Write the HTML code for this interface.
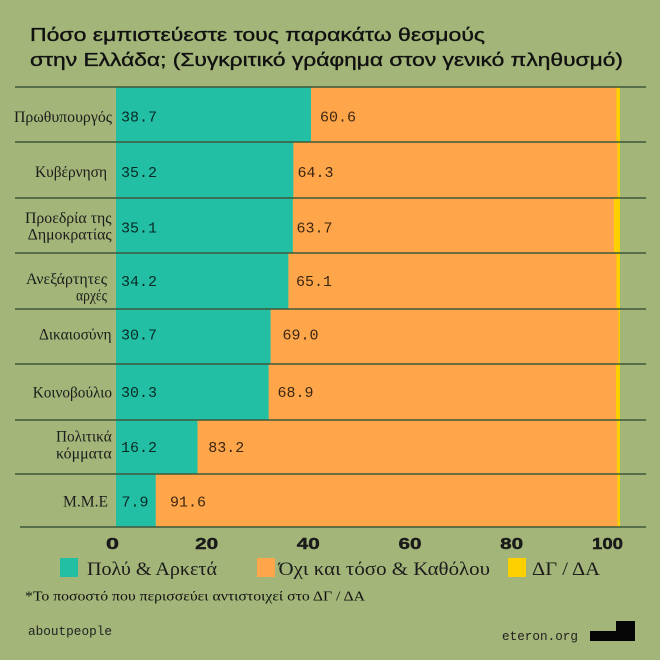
<!DOCTYPE html>
<html>
<head>
<meta charset="utf-8">
<style>
  html, body { margin: 0; padding: 0; background: #a3b578; }
  svg { display: block; }
  .t { font-family: "Liberation Sans", "DejaVu Sans", sans-serif; fill: #111; stroke: #111; stroke-width: 0.35px; }
  .lab { font-family: "Liberation Serif", "DejaVu Serif", serif; font-size: 15.5px; fill: #1c1c1c; }
  .val { font-family: "Liberation Mono", "DejaVu Sans Mono", monospace; font-size: 15px; fill: rgba(0,0,0,0.78); }
  .tick { font-family: "Liberation Sans", "DejaVu Sans", sans-serif; font-weight: bold; font-size: 15.5px; fill: #1a1a1a; stroke: #1a1a1a; stroke-width: 0.4px; }
  .leg { font-family: "Liberation Serif", "DejaVu Serif", serif; font-size: 18.5px; fill: #1c1c1c; }
  .foot { font-family: "Liberation Serif", "DejaVu Serif", serif; font-size: 14px; fill: #111; }
  .mono { font-family: "Liberation Mono", "DejaVu Sans Mono", monospace; font-size: 13px; fill: #222; }
</style>
</head>
<body>
<svg width="660" height="660" viewBox="0 0 660 660" xmlns="http://www.w3.org/2000/svg">
  <rect x="0" y="0" width="660" height="660" fill="#a3b578"/>

  <!-- Title -->
  <text class="t" x="30" y="41" font-size="18" textLength="455" lengthAdjust="spacingAndGlyphs">Πόσο εμπιστεύεστε τους παρακάτω θεσμούς</text>
  <text class="t" x="30" y="66" font-size="18" textLength="593" lengthAdjust="spacingAndGlyphs">στην Ελλάδα; (Συγκριτικό γράφημα στον γενικό πληθυσμό)</text>

  <!-- Bars: x0=116, scale 5.04 -->
  <rect x="116" y="87" width="195.0" height="55" fill="#23bfa5"/>
  <rect x="311.0" y="87" width="305.4" height="55" fill="#ffa64b"/>
  <rect x="616.4" y="87" width="3.6" height="55" fill="#ffd000"/>

  <rect x="116" y="142" width="177.4" height="56" fill="#23bfa5"/>
  <rect x="293.4" y="142" width="324.1" height="56" fill="#ffa64b"/>
  <rect x="617.5" y="142" width="2.5" height="56" fill="#ffd000"/>

  <rect x="116" y="198" width="176.9" height="55" fill="#23bfa5"/>
  <rect x="292.9" y="198" width="321.0" height="55" fill="#ffa64b"/>
  <rect x="613.9" y="198" width="6.1" height="55" fill="#ffd000"/>

  <rect x="116" y="253" width="172.4" height="56" fill="#23bfa5"/>
  <rect x="288.4" y="253" width="328.1" height="56" fill="#ffa64b"/>
  <rect x="616.5" y="253" width="3.5" height="56" fill="#ffd000"/>

  <rect x="116" y="309" width="154.7" height="55" fill="#23bfa5"/>
  <rect x="270.7" y="309" width="347.8" height="55" fill="#ffa64b"/>
  <rect x="618.5" y="309" width="1.5" height="55" fill="#ffd000"/>

  <rect x="116" y="364" width="152.7" height="56" fill="#23bfa5"/>
  <rect x="268.7" y="364" width="347.3" height="56" fill="#ffa64b"/>
  <rect x="616.0" y="364" width="4.0" height="56" fill="#ffd000"/>

  <rect x="116" y="420" width="81.6" height="54" fill="#23bfa5"/>
  <rect x="197.6" y="420" width="419.3" height="54" fill="#ffa64b"/>
  <rect x="616.9" y="420" width="3.1" height="54" fill="#ffd000"/>

  <rect x="116" y="474" width="39.8" height="53" fill="#23bfa5"/>
  <rect x="155.8" y="474" width="461.7" height="53" fill="#ffa64b"/>
  <rect x="617.5" y="474" width="2.5" height="53" fill="#ffd000"/>

  <!-- Grid lines -->
  <g stroke="#3d5838" stroke-width="1.6">
    <line x1="15" y1="87" x2="646" y2="87"/>
    <line x1="15" y1="142" x2="646" y2="142"/>
    <line x1="15" y1="198" x2="646" y2="198"/>
    <line x1="15" y1="253" x2="646" y2="253"/>
    <line x1="15" y1="309" x2="646" y2="309"/>
    <line x1="15" y1="364" x2="646" y2="364"/>
    <line x1="15" y1="420" x2="646" y2="420"/>
    <line x1="15" y1="474" x2="646" y2="474"/>
    <line x1="20" y1="527" x2="646" y2="527"/>
  </g>

  <!-- Row labels -->
  <text class="lab" x="14" y="122" textLength="98" lengthAdjust="spacingAndGlyphs">Πρωθυπουργός</text>
  <text class="lab" x="35" y="177" textLength="72" lengthAdjust="spacingAndGlyphs">Κυβέρνηση</text>
  <text class="lab" x="25" y="223" textLength="86.5" lengthAdjust="spacingAndGlyphs">Προεδρία της</text>
  <text class="lab" x="27.7" y="239.5" textLength="84" lengthAdjust="spacingAndGlyphs">Δημοκρατίας</text>
  <text class="lab" x="26" y="284" textLength="81" lengthAdjust="spacingAndGlyphs">Ανεξάρτητες</text>
  <text class="lab" x="76" y="300.5" textLength="31" lengthAdjust="spacingAndGlyphs">αρχές</text>
  <text class="lab" x="39" y="339.5" textLength="72.5" lengthAdjust="spacingAndGlyphs">Δικαιοσύνη</text>
  <text class="lab" x="32.7" y="397.5" textLength="79.3" lengthAdjust="spacingAndGlyphs">Κοινοβούλιο</text>
  <text class="lab" x="56" y="441.7" textLength="55.7" lengthAdjust="spacingAndGlyphs">Πολιτικά</text>
  <text class="lab" x="56" y="458.3" textLength="55.7" lengthAdjust="spacingAndGlyphs">κόμματα</text>
  <text class="lab" x="63" y="506.7" textLength="45" lengthAdjust="spacingAndGlyphs">Μ.Μ.Ε</text>

  <!-- Value labels -->
  <text class="val" x="121" y="121.5">38.7</text>
  <text class="val" x="320" y="121.5">60.6</text>
  <text class="val" x="121" y="177">35.2</text>
  <text class="val" x="297.5" y="177">64.3</text>
  <text class="val" x="121" y="232.5">35.1</text>
  <text class="val" x="296.5" y="232.5">63.7</text>
  <text class="val" x="121" y="286">34.2</text>
  <text class="val" x="296" y="286">65.1</text>
  <text class="val" x="121" y="339.5">30.7</text>
  <text class="val" x="282.5" y="339.5">69.0</text>
  <text class="val" x="121" y="397">30.3</text>
  <text class="val" x="277.5" y="397">68.9</text>
  <text class="val" x="121" y="452">16.2</text>
  <text class="val" x="208.3" y="452">83.2</text>
  <text class="val" x="121.5" y="506.7">7.9</text>
  <text class="val" x="170" y="506.7">91.6</text>

  <!-- Axis ticks -->
  <text class="tick" x="112.5" y="549" text-anchor="middle" textLength="13" lengthAdjust="spacingAndGlyphs">0</text>
  <text class="tick" x="206.7" y="549" text-anchor="middle" textLength="23" lengthAdjust="spacingAndGlyphs">20</text>
  <text class="tick" x="308.3" y="549" text-anchor="middle" textLength="23" lengthAdjust="spacingAndGlyphs">40</text>
  <text class="tick" x="410" y="549" text-anchor="middle" textLength="23" lengthAdjust="spacingAndGlyphs">60</text>
  <text class="tick" x="511.7" y="549" text-anchor="middle" textLength="23" lengthAdjust="spacingAndGlyphs">80</text>
  <text class="tick" x="607.5" y="549" text-anchor="middle" textLength="31" lengthAdjust="spacingAndGlyphs">100</text>

  <!-- Legend -->
  <rect x="60" y="558" width="18" height="19" fill="#23bfa5"/>
  <text class="leg" x="87" y="575" textLength="130" lengthAdjust="spacingAndGlyphs">Πολύ &amp; Αρκετά</text>
  <rect x="257" y="558" width="18" height="19" fill="#ffa64b"/>
  <text class="leg" x="278.5" y="575" textLength="211.5" lengthAdjust="spacingAndGlyphs">Όχι και τόσο &amp; Καθόλου</text>
  <rect x="508" y="558" width="18" height="19" fill="#ffd000"/>
  <text class="leg" x="532" y="575" textLength="68" lengthAdjust="spacingAndGlyphs">ΔΓ / ΔΑ</text>

  <!-- Footnote -->
  <text class="foot" x="25" y="600.5" textLength="340" lengthAdjust="spacingAndGlyphs">*Το ποσοστό που περισσεύει αντιστοιχεί στο ΔΓ / ΔΑ</text>

  <!-- Footer -->
  <text class="mono" x="28" y="635" textLength="84" lengthAdjust="spacingAndGlyphs">aboutpeople</text>
  <text class="mono" x="502" y="640" textLength="76" lengthAdjust="spacingAndGlyphs">eteron.org</text>
  <rect x="590" y="631" width="45" height="10" fill="#050505"/>
  <rect x="616" y="621" width="19" height="11" fill="#050505"/>
</svg>
</body>
</html>
